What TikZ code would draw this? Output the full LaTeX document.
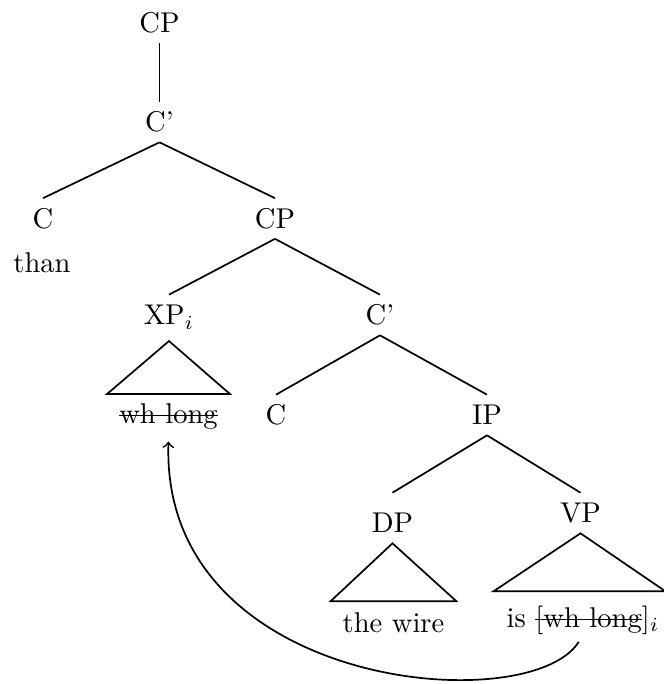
\documentclass[tikz,border=0pt]{standalone}
\newcommand{\mystrike}[1]{\setbox0=\hbox{#1}\rlap{\rule[0.55ex]{\wd0}{0.6pt}}\box0}
\begin{document}
\begin{tikzpicture}[x=0.35pt,y=-0.35pt,
  lab/.style={inner xsep=0pt, inner ysep=3.5pt, text height=6.83pt, text depth=0pt},
  wrd/.style={inner xsep=0pt, inner ysep=3.5pt, text height=6.83pt, text depth=0pt, anchor=base},
  edge/.style={line width=0.6pt},
  tri/.style={line width=0.6pt, line join=miter}]
\useasboundingbox (0,0) rectangle (663,684);
\node[lab] (cp1) at (159.5,22.5) {CP};
\node[lab] (cb1) at (159.5,122) {C'};
\node[lab] (c1) at (43,218.5) {C};
\node[wrd] (than) at (42,272) {than};
\node[lab] (cp2) at (275,218.5) {CP};
\node[lab] (xp) at (169,315) {XP$_i$};
\node[lab] (cb2) at (380,315) {C'};
\node[wrd] (whl) at (168.5,423) {\mystrike{wh long}};
\node[lab] (c2) at (276,415) {C};
\node[lab] (ip) at (487,415) {IP};
\node[lab] (dp) at (392.5,523) {DP};
\node[lab] (vp) at (580.5,513) {VP};
\node[wrd] (tw) at (393.5,632) {the wire};
\node[wrd] (isw) at (583,627) {is \mystrike{[wh long}]$_i$};
\draw[line width=0.45pt] (cp1) -- (cb1);
\draw[edge] (cb1.south) -- (c1.north);
\draw[edge] (cb1.south) -- (cp2.north);
\draw[edge] (cp2.south) -- (xp.north);
\draw[edge] (cp2.south) -- (cb2.north);
\draw[edge] (cb2.south) -- (c2.north);
\draw[edge] (cb2.south) -- (ip.north);
\draw[edge] (ip.south) -- ([yshift=3.5pt]dp.north);
\draw[edge] (ip.south) -- (vp.north);
\draw[tri] ([yshift=-2pt]xp.south) -- ++(-62,53) -- ++(123,0) -- cycle;
\draw[tri] (dp.south) -- ++(-62,58) -- ++(126,0) -- cycle;
\draw[tri] (vp.south) -- ++(-87,58) -- ++(172,0) -- cycle;
\draw[edge,->] ([xshift=-1.5pt,yshift=-1.5pt]isw.south) .. controls (530,720) and (160,690) .. ([yshift=-2.8pt]whl.south);
\end{tikzpicture}
\end{document}
